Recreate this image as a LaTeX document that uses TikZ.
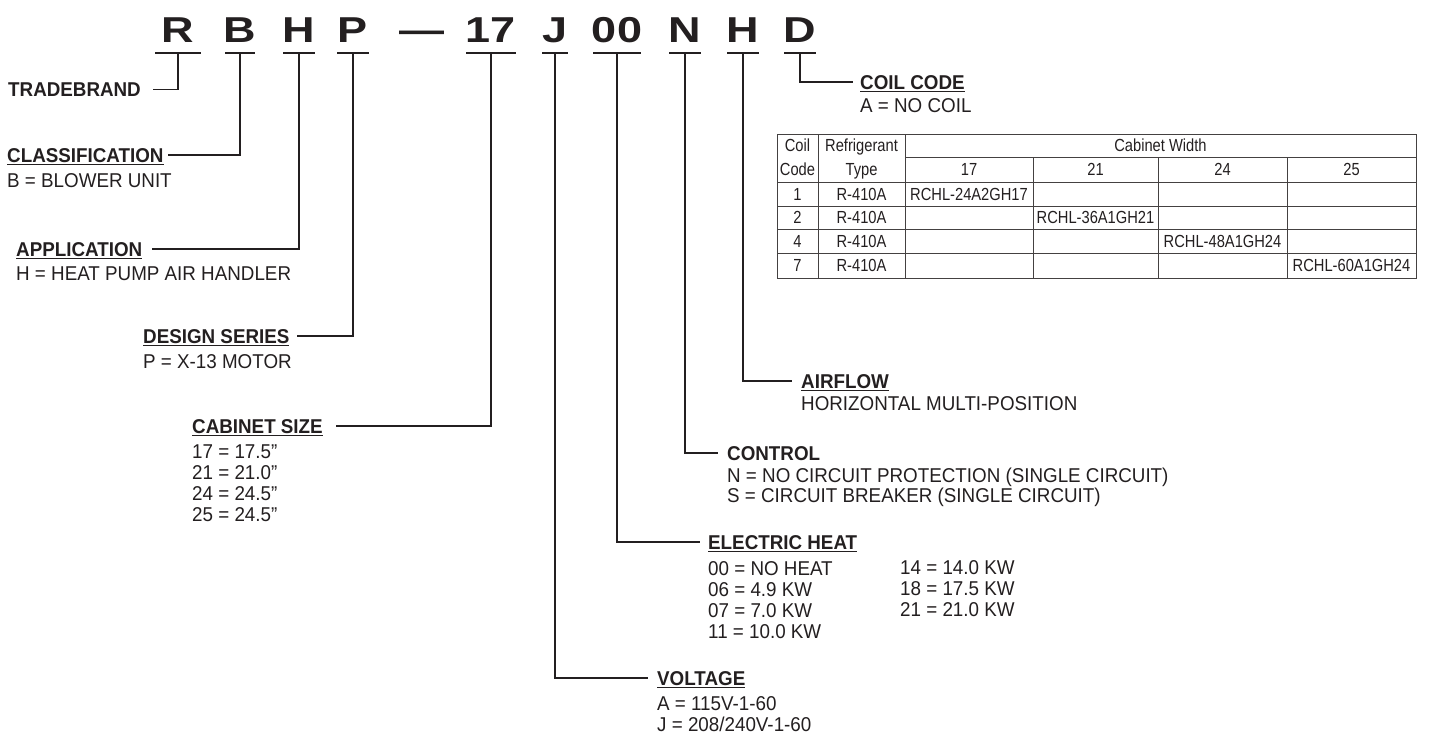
\documentclass[tikz,border=0pt]{standalone}
\usepackage{fontspec}
\setmainfont{Liberation Sans}[FakeStretch=0.94]
\newfontfamily\codefont{Liberation Sans}[FakeStretch=1.25]
\newfontfamily\tablefont{Liberation Sans}[FakeStretch=0.84]
\definecolor{ink}{RGB}{35,31,32}
\newcommand{\headline}[1]{\setbox0\hbox{#1}\rlap{\rule[-3pt]{\wd0}{1.3pt}}\box0}

\begin{document}
\begin{tikzpicture}[x=1pt,y=-1pt,
    lead/.style={draw=ink,line width=1.2pt},
    grid/.style={draw=ink!85,line width=1pt},
    code/.style={anchor=base,inner sep=0pt,text=ink,font=\codefont\bfseries\fontsize{36}{36}\selectfont},
    head/.style={anchor=base west,inner sep=0pt,text depth=0pt,text=ink,font=\bfseries\fontsize{20}{21}\selectfont},
    body/.style={anchor=base west,inner sep=0pt,align=left,text=ink,font=\fontsize{20}{21}\selectfont},
    cell/.style={inner sep=0pt,text height=12.5pt,text depth=0pt,text=ink,font=\tablefont\fontsize{17.5}{18}\selectfont}]

    \useasboundingbox (0,0) rectangle (1429,736);

    % Model number, one bar under each part
    \foreach \nm/\x/\w/\txt in {R/178/23/R,B/240/15/B,Ha/299/16/H,P/353/16/P,S/491/25/17,J/555/13/J,E/617/24/00,N/685/16/N,Hb/743/16/H,D/800/16/D} {
        \node[code] (k\nm) at (\x,42) {\txt};
        \coordinate (b\nm) at (\x,53);
        \draw[lead] (\x-\w,53) -- (\x+\w,53);
    }
    \node[code] (kDash) at (422,42) {—};

    % Tradebrand
    \node[head] (hTrade) at (8,96) {TRADEBRAND};
    \draw[lead] (bR) |- ([xshift=12pt]hTrade.east);

    % Classification
    \node[head] (hClass) at (7,162) {\headline{CLASSIFICATION}};
    \node[body] (dClass) at (7,187) {B = BLOWER UNIT};
    \draw[lead] (bB) |- ([xshift=4pt]hClass.east);

    % Application
    \node[head] (hApp) at (16,256) {\headline{APPLICATION}};
    \node[body] (dApp) at (16,280) {H = HEAT PUMP AIR HANDLER};
    \draw[lead] (bHa) |- ([xshift=10pt]hApp.east);

    % Design series
    \node[head] (hDesign) at (143,343) {\headline{DESIGN SERIES}};
    \node[body] (dDesign) at (143,368) {P = X-13 MOTOR};
    \draw[lead] (bP) |- ([xshift=7pt]hDesign.east);

    % Cabinet size (multi-line nodes sit on their last line)
    \node[head] (hCab) at (192,433) {\headline{CABINET SIZE}};
    \node[body] (dCab) at (192,521) {17 = 17.5”\\21 = 21.0”\\24 = 24.5”\\25 = 24.5”};
    \draw[lead] (bS) |- ([xshift=13pt]hCab.east);

    % Voltage
    \node[head] (hVolt) at (657,685) {\headline{VOLTAGE}};
    \node[body] (dVolt) at (657,731) {A = 115V-1-60\\J = 208/240V-1-60};
    \draw[lead] (bJ) |- ([xshift=-9pt]hVolt.west);

    % Electric heat
    \node[head] (hHeat) at (708,549) {\headline{ELECTRIC HEAT}};
    \node[body] (dHeatA) at (708,638) {00 = NO HEAT\\06 = 4.9 KW\\07 = 7.0 KW\\11 = 10.0 KW};
    \node[body] (dHeatB) at (900,616) {14 = 14.0 KW\\18 = 17.5 KW\\21 = 21.0 KW};
    \draw[lead] (bE) |- ([xshift=-8pt]hHeat.west);

    % Control
    \node[head] (hCtrl) at (727,460) {CONTROL};
    \node[body] (dCtrl) at (727,502) {N = NO CIRCUIT PROTECTION (SINGLE CIRCUIT)\\[-1pt]S = CIRCUIT BREAKER (SINGLE CIRCUIT)};
    \draw[lead] (bN) |- ([xshift=-9pt]hCtrl.west);

    % Airflow
    \node[head] (hAir) at (801,388) {\headline{AIRFLOW}};
    \node[body] (dAir) at (801,410) {HORIZONTAL MULTI-POSITION};
    \draw[lead] (bHb) |- ([xshift=-9pt]hAir.west);

    % Coil code
    \node[head] (hCoil) at (860,89) {\headline{COIL CODE}};
    \node[body] (dCoil) at (860,112) {A = NO COIL};
    \draw[lead] (bD) |- ([xshift=-7pt]hCoil.west);

    % Coil table
    \draw[grid] (777,134) rectangle (1416,278);
    \foreach \x in {818,905} \draw[grid] (\x,134) -- (\x,278);
    \foreach \x in {1033,1158,1287} \draw[grid] (\x,157) -- (\x,278);
    \draw[grid] (905,157) -- (1416,157);
    \foreach \y in {182,206,229,253} \draw[grid] (777,\y) -- (1416,\y);

    \node[cell] (tCoil) at (797.5,145.5) {Coil};
    \node[cell] (tCode) at (797.5,169.5) {Code};
    \node[cell] (tRef) at (861.5,145.5) {Refrigerant};
    \node[cell] (tType) at (861.5,169.5) {Type};
    \node[cell] (tWidth) at (1160.5,145.5) {Cabinet Width};
    \foreach \w/\x in {17/969,21/1095.5,24/1222.5,25/1351.5}
        \node[cell] (tW\w) at (\x,169.5) {\w};
    \foreach \c/\y/\x/\m in {1/194/969/RCHL-24A2GH17,2/217.5/1095.5/RCHL-36A1GH21,4/241/1222.5/RCHL-48A1GH24,7/265.5/1351.5/RCHL-60A1GH24} {
        \node[cell] (tC\c) at (797.5,\y) {\c};
        \node[cell] (tR\c) at (861.5,\y) {R-410A};
        \node[cell] (tM\c) at (\x,\y) {\m};
    }

\end{tikzpicture}
\end{document}
